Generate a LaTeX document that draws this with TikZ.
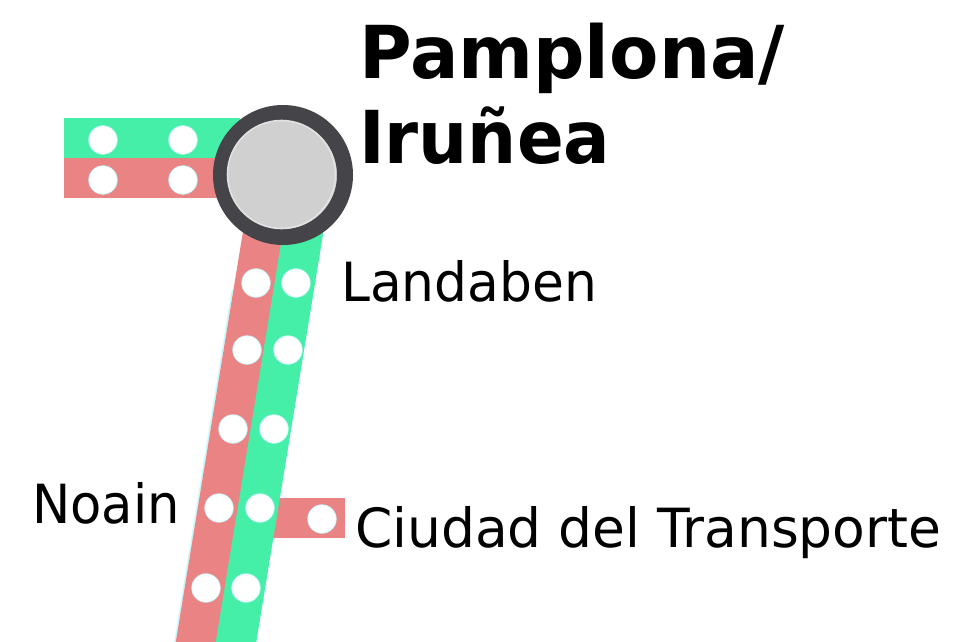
\documentclass[tikz,border=0pt]{standalone}
\usepackage{fontspec}
\setmainfont{DejaVu Sans}
\definecolor{rojo}{HTML}{EA8484}
\definecolor{verde}{HTML}{46EFA8}
\definecolor{anillo}{HTML}{454449}
\definecolor{gris}{HTML}{CFD0CF}
\definecolor{halo}{HTML}{C4F9FF}
\definecolor{rim}{HTML}{E2E2E2}
\tikzset{
  vialine/.style={line width=40pt,line cap=butt},
  fringe/.style={line width=1.6pt,line cap=butt,halo},
  stopdot/.style={circle,fill=white,draw=halo,line width=0.7pt,minimum size=28.5pt,inner sep=0pt},
  hub/.style={circle,fill=gris,draw=anillo,line width=16pt,minimum size=124pt,inner sep=0pt},
  hubcore/.style={circle,fill=gris,draw=rim,line width=1.6pt,minimum size=108pt,inner sep=0pt},
  lbl/.style={anchor=base west,inner sep=0pt,text=black,font=\fontsize{54}{54}\selectfont},
  city/.style={anchor=base west,inner sep=0pt,text=black,font=\bfseries\fontsize{73}{73}\selectfont},
}
\begin{document}
\begin{tikzpicture}[x=1pt,y=-1pt]
\useasboundingbox (0,0) rectangle (953,642);
% free ends
\coordinate (gw) at (64,138);
\coordinate (rw) at (64,178);
\coordinate (he) at (240,138);
\coordinate (hf) at (240,178);
\coordinate (rt) at (263.5,230);
\coordinate (rb) at (189.5,682);
\coordinate (gt) at (303.5,230);
\coordinate (gb) at (229.5,682);
\coordinate (ft) at (232.5,290);
\coordinate (fb) at (168.5,682);
\coordinate (bw) at (270,518);
\coordinate (be) at (345,518);
\begin{scope}
\clip (0,0) rectangle (953,642);
\draw[fringe] (ft) -- (fb);
\draw[vialine,rojo] (bw) -- (be);
\draw[vialine,verde] (gw) -- (he);
\draw[vialine,rojo] (rw) -- (hf);
\draw[vialine,rojo] (rt) -- (rb);
\draw[vialine,verde] (gt) -- (gb);
\end{scope}
% hub
\node[hub] (pamplona) at (283,175) {};
\node[hubcore] (core) at (281.5,174.5) {};
% stops
\foreach \n/\x/\y in {a/103/140,b/183/140,c/103/180,d/183/180,
  e/256/283,f/247/350,g/233/429,h/219/508,i/206/588,
  j/296/283,k/288/350,l/274/429,m/260/508,n/246/588,o/322/519}
  \node[stopdot] (s\n) at (\x,\y) {};
% labels
\node[city] (t1) at (359,78) {\scalebox{.985}[1]{Pamplona/}};
\node[city] (t2) at (359,163) {\scalebox{.945}[1]{Iruñea}};
\node[lbl] (t3) at (341,301) {\scalebox{.96}[1]{Landaben}};
\node[lbl] (t4) at (32,523) {\scalebox{.947}[1]{Noain}};
\node[lbl] (t5) at (355,547) {\scalebox{.99}[1]{Ciudad del Transporte}};
\end{tikzpicture}
\end{document}
